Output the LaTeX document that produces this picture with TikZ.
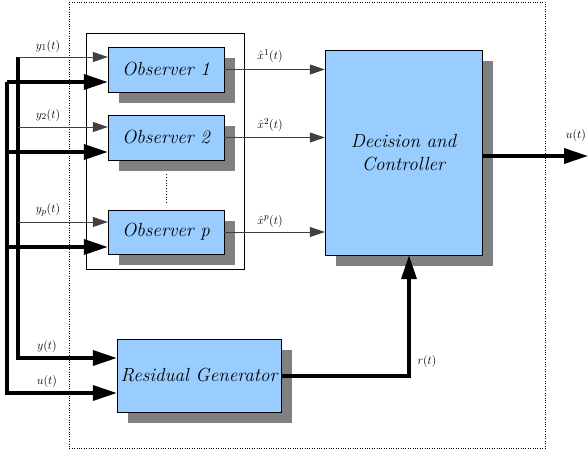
\documentclass[tikz,border=0pt]{standalone}
\usepackage{fontspec}
\usepackage{amsmath}
\usepackage{tikz}
\definecolor{boxblue}{RGB}{153, 204, 255}
\definecolor{shadowgray}{RGB}{128, 128, 128}
\usetikzlibrary{arrows.meta, positioning, calc, shadows}

\tikzset{
    block/.style={draw, fill=boxblue, inner sep=0pt, align=center,
        font=\fontsize{19}{23}\selectfont\itshape,
        drop shadow={shadow xshift=11pt, shadow yshift=-11pt, fill=shadowgray, opacity=1}},
    thinarrow/.style={draw=black!75, line width=0.8pt, -{Triangle[length=15pt, width=10pt]}},
    busline/.style={line width=3.6pt},
    busarrow/.style={busline, -{Triangle[length=24pt, width=15pt]}},
    lbl/.style={font=\fontsize{13}{15}\selectfont, inner sep=0pt}
}

\begin{document}
\begin{tikzpicture}[x=1pt, y=-1pt]
    \useasboundingbox (0,0) rectangle (588,455);
    % outer frame and observer bank
    \draw[dotted] (69,2) rectangle (545,448);
    \draw[line width=0.8pt] (86,33) rectangle (244,269);

    % blocks
    \node[block, minimum width=116pt, minimum height=45pt] (obsA) at (166,69.5) {Observer 1};
    \node[block, minimum width=116pt, minimum height=45pt] (obsB) at (166,137.5) {Observer 2};
    \node[block, minimum width=116pt, minimum height=44pt] (obsP) at (166,232) {Observer p};
    \node[block, minimum width=157pt, minimum height=205pt] (dec) at (403.5,152.5) {Decision and\\Controller};
    \node[block, minimum width=164pt, minimum height=73pt] (res) at (199,375.5) {Residual Generator};
    \draw[dotted, line width=0.8pt, shorten <=14pt, shorten >=7pt] (obsB.south) -- (obsP.north);

    % input buses
    \coordinate (yA) at (18,57);
    \coordinate (yB) at (18,127);
    \coordinate (yP) at (18,222);
    \coordinate (yR) at (18,358);
    \coordinate (uA) at (7,82);
    \coordinate (uB) at (7,152);
    \coordinate (uP) at (7,247);
    \coordinate (uR) at (7,393);
    \draw[busarrow] (yA) -- (yR) -- (yR -| res.west);
    \draw[busarrow] (uA) -- (uR) -- (uR -| res.west);
    \draw[thinarrow] (yA) -- (yA -| obsA.west);
    \draw[thinarrow] (yB) -- (yB -| obsB.west);
    \draw[thinarrow] (yP) -- (yP -| obsP.west);
    \draw[busarrow] (uA) -- (uA -| obsA.west);
    \draw[busarrow] (uB) -- (uB -| obsB.west);
    \draw[busarrow] (uP) -- (uP -| obsP.west);

    % estimates, residual and output
    \draw[thinarrow] (obsA.east) -- (obsA.east -| dec.west);
    \draw[thinarrow] (obsB.east) -- (obsB.east -| dec.west);
    \draw[thinarrow] (obsP.east) -- (obsP.east -| dec.west);
    \coordinate (rc) at (409,376);
    \draw[busarrow] (res.east |- rc) -- (rc) -- (rc |- dec.south);
    \coordinate (uout) at (588,156);
    \draw[busarrow] (dec.east |- uout) -- (uout);

    % labels
    \node[lbl] (lyA) at (48,46) {$y_1(t)$};
    \node[lbl] (lyB) at (48,115) {$y_2(t)$};
    \node[lbl] (lyP) at (48,210) {$y_p(t)$};
    \node[lbl] (ly) at (47,346) {$y(t)$};
    \node[lbl] (lu) at (47,381) {$u(t)$};
    \node[lbl] (lxA) at (270,56) {$\hat{x}^1(t)$};
    \node[lbl] (lxB) at (270,125) {$\hat{x}^2(t)$};
    \node[lbl] (lxP) at (270,221) {$\hat{x}^p(t)$};
    \node[lbl] (lr) at (427,361) {$r(t)$};
    \node[lbl] (luout) at (576,135) {$u(t)$};
\end{tikzpicture}
\end{document}
